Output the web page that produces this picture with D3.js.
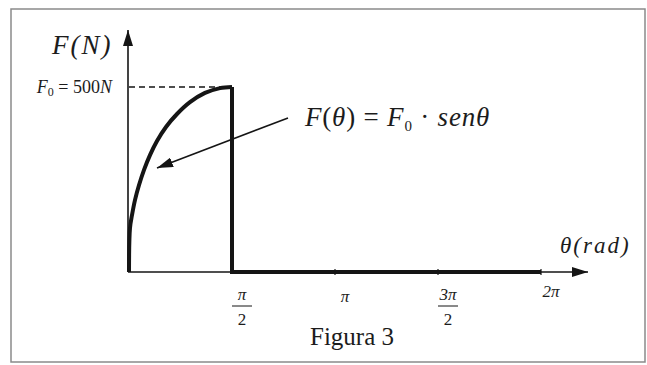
<!DOCTYPE html>
<html>
<head>
<meta charset="utf-8">
<script src="https://cdn.jsdelivr.net/npm/d3@7"></script>
<style>
  html, body { margin: 0; padding: 0; background: #fff; }
  svg { display: block; }
  text { font-family: "Liberation Serif", "Times New Roman", serif; fill: #1c1c1c; }
</style>
</head>
<body>
<svg id="chart" width="647" height="365"></svg>
<script>
// Force applied over one turn: F(θ) = F0·senθ on [0, π/2], zero afterwards
const F0 = 500;
const curveTheta = [0, 0.015, 0.046, 0.092, 0.153, 0.229, 0.320, 0.427, 0.564, 0.732, 0.930, 1.159, 1.388, Math.PI / 2];
const curveForce = [0, 119, 154, 195, 235, 276, 316, 354, 392, 427, 459, 484, 497, 500];
const restTheta = [Math.PI / 2, Math.PI / 2, 2 * Math.PI];
const restForce = [500, 0, 0];
const tickValues = [Math.PI / 2, Math.PI, 3 * Math.PI / 2, 2 * Math.PI];
const tickNumerators = ["π", "π", "3π", "2π"];
const tickDenominators = ["2", "", "2", ""];

const svg = d3.select("#chart");
const ink = "#151515";

const x = d3.scaleLinear().domain([0, 2 * Math.PI]).range([129, 541]);
const y = d3.scaleLinear().domain([0, F0]).range([272, 87]);

// outer frame
svg.append("rect")
  .attr("x", 11).attr("y", 9).attr("width", 634).attr("height", 353)
  .attr("fill", "none").attr("stroke", "#8a8a8a").attr("stroke-width", 1.5);

const defs = svg.append("defs");
defs.append("marker")
  .attr("id", "head").attr("viewBox", "0 0 16 10")
  .attr("refX", 16).attr("refY", 5)
  .attr("markerWidth", 16).attr("markerHeight", 10)
  .attr("markerUnits", "userSpaceOnUse").attr("orient", "auto")
  .append("path").attr("d", "M0,0 L16,5 L0,10 Z").attr("fill", ink);

// axes drawn as arrows
svg.append("line")
  .attr("x1", x(0) - 1).attr("y1", y(0)).attr("x2", 588).attr("y2", y(0))
  .attr("stroke", ink).attr("stroke-width", 1.6).attr("marker-end", "url(#head)");
svg.append("line")
  .attr("x1", x(0) - 1).attr("y1", y(0)).attr("x2", x(0) - 1).attr("y2", 30)
  .attr("stroke", ink).attr("stroke-width", 1.6).attr("marker-end", "url(#head)");

// small tick marks
svg.append("g").selectAll("line").data(tickValues.slice(1)).join("line")
  .attr("x1", d => x(d)).attr("x2", d => x(d))
  .attr("y1", y(0) - 3).attr("y2", y(0) + 3)
  .attr("stroke", ink).attr("stroke-width", 1.2);

// dashed reference at F0
svg.append("line")
  .attr("x1", x(0)).attr("x2", x(Math.PI / 2) - 4)
  .attr("y1", y(F0)).attr("y2", y(F0))
  .attr("stroke", ink).attr("stroke-width", 1.4).attr("stroke-dasharray", "6,4");

// force curve and the zero segment after π/2
const line = d3.line().x(d => x(d[0])).y(d => y(d[1])).curve(d3.curveCatmullRom.alpha(0.5));
svg.append("path")
  .datum(curveTheta.map((t, i) => [t, curveForce[i]]))
  .attr("d", line)
  .attr("fill", "none").attr("stroke", ink).attr("stroke-width", 4).attr("stroke-linejoin", "round");
svg.append("path")
  .datum(restTheta.map((t, i) => [t, restForce[i]]))
  .attr("d", d3.line().x(d => x(d[0])).y(d => y(d[1])))
  .attr("fill", "none").attr("stroke", ink).attr("stroke-width", 4).attr("stroke-linejoin", "miter");

// tick labels (fractions)
const tl = svg.append("g").attr("font-size", 17).attr("text-anchor", "middle");
tickValues.forEach((v, i) => {
  const cx = x(v) + 10;
  if (tickDenominators[i]) {
    tl.append("text").attr("x", cx).attr("y", 300).attr("font-style", "italic").text(tickNumerators[i]);
    tl.append("line").attr("x1", cx - 10).attr("x2", cx + 10).attr("y1", 306).attr("y2", 306)
      .attr("stroke", ink).attr("stroke-width", 1);
    tl.append("text").attr("x", cx).attr("y", 325).text(tickDenominators[i]);
  } else {
    tl.append("text").attr("x", cx).attr("y", i === 3 ? 297 : 302).attr("font-style", "italic").text(tickNumerators[i]);
  }
});

// axis titles
svg.append("text").attr("x", 52).attr("y", 54)
  .attr("font-size", 27).attr("font-style", "italic").attr("letter-spacing", 2).text("F(N)");
svg.append("text").attr("x", 560).attr("y", 253)
  .attr("font-size", 23).attr("font-style", "italic").attr("letter-spacing", 2).text("θ(rad)");

// F0 label
const f0 = svg.append("text").attr("x", 112).attr("y", 93).attr("text-anchor", "end").attr("font-size", 18);
f0.append("tspan").attr("font-style", "italic").text("F");
f0.append("tspan").attr("font-size", 12).attr("dy", 3).text("0");
f0.append("tspan").attr("dy", -3).text(" = 500");
f0.append("tspan").attr("font-style", "italic").text("N");

// formula with pointer arrow
const fm = svg.append("text").attr("x", 305).attr("y", 126).attr("font-size", 27).attr("letter-spacing", 0.8);
fm.append("tspan").attr("font-style", "italic").text("F");
fm.append("tspan").text("(");
fm.append("tspan").attr("font-style", "italic").text("θ");
fm.append("tspan").text(") = ");
fm.append("tspan").attr("font-style", "italic").text("F");
fm.append("tspan").attr("font-size", 15).attr("dy", 5).text("0");
fm.append("tspan").attr("dy", -5).text(" · ");
fm.append("tspan").attr("font-style", "italic").text("senθ");

svg.append("line")
  .attr("x1", 288).attr("y1", 118).attr("x2", 157).attr("y2", 168)
  .attr("stroke", ink).attr("stroke-width", 1.6).attr("marker-end", "url(#head)");

// caption
svg.append("text").attr("x", 352).attr("y", 345).attr("text-anchor", "middle")
  .attr("font-size", 25).text("Figura 3");
</script>
</body>
</html>
